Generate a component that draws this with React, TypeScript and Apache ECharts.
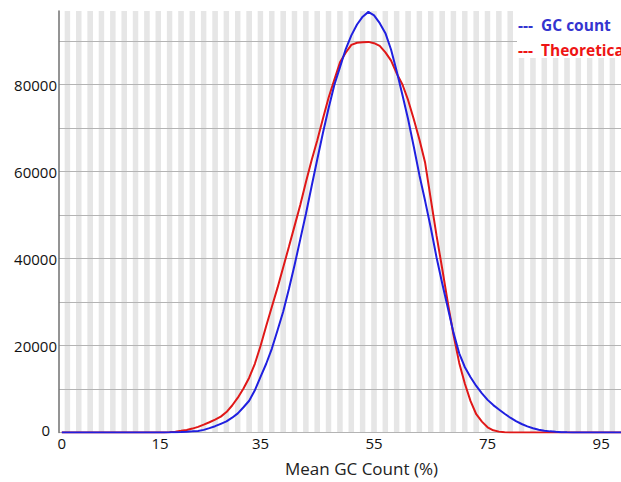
import React, { useEffect, useRef } from 'react';
import * as echarts from 'echarts';

// GC percentage (x categories)
const gcPercent = [
  0, 1, 2, 3, 4, 5, 6, 7, 8, 9,
  10, 11, 12, 13, 14, 15, 16, 17, 18, 19,
  20, 21, 22, 23, 24, 25, 26, 27, 28, 29,
  30, 31, 32, 33, 34, 35, 36, 37, 38, 39,
  40, 41, 42, 43, 44, 45, 46, 47, 48, 49,
  50, 51, 52, 53, 54, 55, 56, 57, 58, 59,
  60, 61, 62, 63, 64, 65, 66, 67, 68, 69,
  70, 71, 72, 73, 74, 75, 76, 77, 78, 79,
  80, 81, 82, 83, 84, 85, 86, 87, 88, 89,
  90, 91, 92, 93, 94, 95, 96, 97, 98, 99,
];

// "GC count" series (blue)
const gcCount = [
  0, 0, 0, 0, 0, 0, 0, 0, 0, 0,
  0, 0, 0, 0, 0, 0, 0, 0, 20, 40,
  80, 130, 190, 270, 360, 600, 1000, 1450, 2000, 2550,
  3400, 4400, 5800, 7300, 9700, 12800, 15800, 19300, 23500, 27800,
  33000, 38500, 44400, 50300, 56600, 62800, 68900, 74600, 79900, 84000,
  88100, 91300, 93800, 95600, 96700, 95900, 94100, 91800, 88000, 83000,
  77600, 72000, 65700, 59100, 53200, 47000, 40300, 34300, 28600, 22900,
  18200, 15000, 12700, 10700, 9000, 7500, 6300, 5300, 4300, 3400,
  2600, 1950, 1400, 980, 640, 420, 260, 150, 80, 40,
  20, 10, 0, 0, 0, 0, 0, 0, 0, 0,
];

// "Theoretical" series (red)
const theoretical = [
  0, 0, 0, 0, 0, 0, 0, 0, 0, 0,
  0, 0, 0, 0, 0, 0, 0, 0, 0, 60,
  200, 380, 575, 900, 1300, 1800, 2350, 2950, 3650, 4700,
  6200, 8000, 10100, 12600, 15800, 19900, 24500, 28900, 33300, 38000,
  42700, 47500, 52300, 57600, 62600, 67200, 72200, 77000, 81100, 85100,
  87300, 89100, 89600, 89700, 89800, 89500, 88900, 87400, 85500, 82500,
  80000, 76400, 72000, 67300, 62000, 53600, 45300, 37700, 29800, 22400,
  16000, 11200, 7200, 4200, 2500, 1200, 500, 200, 60, 0,
  0, 0, 0, 0, 0, 0, 0, 0, 0, 0,
  0, 0, 0, 0, 0, 0, 0, 0, 0, 0,
];

const seriesNames = ['GC count', 'Theoretical'];
const xTickValues = [0, 17.3, 35, 55, 75, 95];
const xTickLabels = ['0', '15', '35', '55', '75', '95'];
const yTickValues = [0, 20000, 40000, 60000, 80000];
const xAxisTitle = 'Mean GC Count (%)';

const FONT = 'Open Sans';

export default function App() {
  const ref = useRef<HTMLDivElement>(null);

  useEffect(() => {
    document.body.style.margin = '0';
    const chart = echarts.init(ref.current as HTMLDivElement, null, { renderer: 'svg' });
    chart.setOption({
      animation: false,
      backgroundColor: '#ffffff',
      grid: { left: 59, right: 0, top: 11, bottom: 49.5 },
      graphic: [
        {
          type: 'rect',
          z: 3,
          silent: true,
          shape: { x: 517, y: 0, width: 104, height: 58 },
          style: { fill: '#ffffff' },
        },
      ],
      legend: {
        orient: 'vertical',
        left: 513,
        top: 15,
        padding: 0,
        icon: 'none',
        itemWidth: 0,
        itemHeight: 14,
        itemGap: 4.5,
        selectedMode: false,
        formatter: '---  {name}',
        textStyle: { fontSize: 15.5, fontWeight: 'bold', fontFamily: FONT, lineHeight: 20 },
        data: [
          { name: seriesNames[0], textStyle: { color: '#3434cf' } },
          { name: seriesNames[1], textStyle: { color: '#ee1414' } },
        ],
      },
      xAxis: {
        type: 'value',
        z: 0,
        min: -0.5,
        max: 98.5,
        interval: 1,
        axisLine: { show: false, onZero: false },
        axisTick: { show: false },
        splitLine: { show: false },
        splitArea: { show: true, areaStyle: { color: ['#ffffff', '#e6e6e6'] } },
        axisLabel: {
          customValues: xTickValues,
          formatter: (v: number) => {
            const i = xTickValues.indexOf(v);
            return i >= 0 ? xTickLabels[i] : '';
          },
          fontSize: 15,
          fontFamily: FONT,
          color: '#111111',
          margin: 3,
        },
        name: xAxisTitle,
        nameLocation: 'middle',
        nameGap: 27,
        nameTextStyle: { fontSize: 17, fontFamily: FONT, color: '#222222', padding: [0, 0, 0, 43] },
      },
      yAxis: {
        type: 'value',
        z: 1,
        min: 0,
        max: 96900,
        interval: 10000,
        axisLine: { show: true, onZero: false, lineStyle: { color: '#707070', width: 1.5 } },
        axisTick: { show: false },
        splitLine: { show: true, showMaxLine: false, lineStyle: { color: '#b4b4b4', width: 1 } },
        axisLabel: {
          customValues: yTickValues,
          fontSize: 15,
          fontFamily: FONT,
          color: '#111111',
          margin: 2,
          formatter: (v: number) => (v === 0 ? '{z|0}' : String(v)),
          rich: { z: { fontSize: 15, fontFamily: FONT, color: '#111111', padding: [0, 7, 5, 0] } },
        },
      },
      series: [
        {
          name: seriesNames[1],
          type: 'line',
          data: gcPercent.map((g, i) => [g, theoretical[i]]),
          showSymbol: false,
          symbol: 'none',
          lineStyle: { color: '#e01818', width: 2 },
          itemStyle: { color: '#e01818' },
          z: 2,
        },
        {
          name: seriesNames[0],
          type: 'line',
          data: gcPercent.map((g, i) => [g, gcCount[i]]),
          showSymbol: false,
          symbol: 'none',
          lineStyle: { color: '#2020e0', width: 2 },
          itemStyle: { color: '#2020e0' },
          z: 2,
        },
      ],
    });
    return () => chart.dispose();
  }, []);

  return <div ref={ref} style={{ width: 621, height: 482 }} />;
}
